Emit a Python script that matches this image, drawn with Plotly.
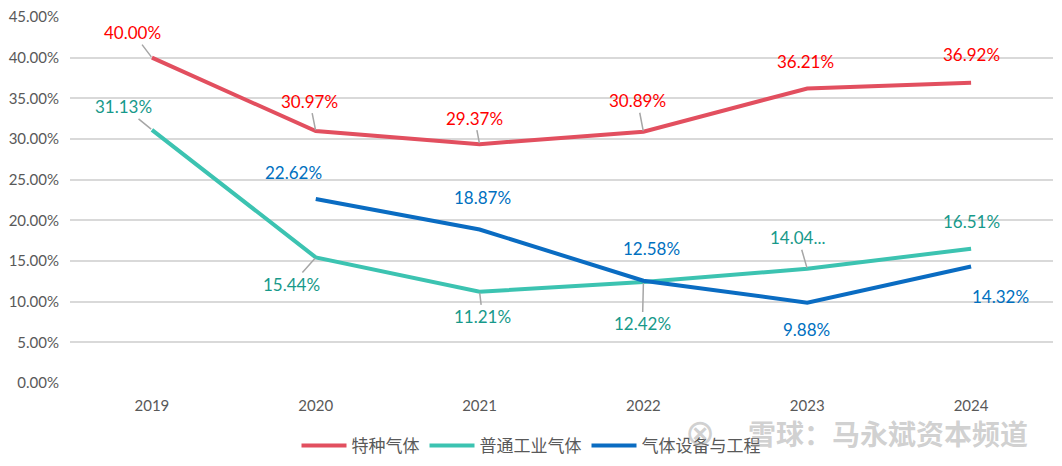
import plotly.graph_objects as go

# ----------------------------------------------------------------------
#  Data (percent)
years = ["2019", "2020", "2021", "2022", "2023", "2024"]
special_gas = [40.00, 30.97, 29.37, 30.89, 36.21, 36.92]
industrial_gas = [31.13, 15.44, 11.21, 12.42, 14.04, 16.51]
equipment = [None, 22.62, 18.87, 12.58, 9.88, 14.32]

series_names = ["特种气体", "普通工业气体", "气体设备与工程"]

# label text overrides (Excel truncated one label)
industrial_text = ["31.13%", "15.44%", "11.21%", "12.42%", "14.04...", "16.51%"]

# ----------------------------------------------------------------------
#  Styles
LINE_COLORS = ["#E24F5F", "#3CC3B1", "#0A6CC2"]
LABEL_COLORS = ["#FF0000", "#17998A", "#0070C0"]
LEADER = "#A6A6A6"
FONT = "Lato, 'Noto Sans CJK SC', sans-serif"
WM = "rgba(170,170,170,0.55)"

# label offsets (px, text centre relative to point) and whether a leader line shows
special_off = [(-19, -25, True), (-6, -30, True), (-5, -26, True), (-6, -31, True), (-2, -27, False), (0, -28, False)]
industrial_off = [(-28, -23, True), (-24, 27, True), (3, 25, True), (-1, 42, True), (-9, -31, True), (0, -27, False)]
equipment_off = [None, (-22, -27, False), (3, -32, False), (8, -32, False), (-1, 27, False), (29, 30, False)]

fig = go.Figure()
for name, vals, col in zip(series_names, [special_gas, industrial_gas, equipment], LINE_COLORS):
    fig.add_trace(go.Scatter(
        x=years, y=vals, name=name, mode="lines",
        line=dict(color=col, width=4),
        hoverinfo="skip",
    ))

annotations = []
def add_labels(vals, texts, offs, col):
    # category index used for x so the axis is not stretched
    for i, (v, t, o) in enumerate(zip(vals, texts, offs)):
        if v is None or o is None:
            continue
        ax, ay, lead = o
        annotations.append(dict(
            x=i, y=v, xref="x", yref="y", text=t,
            showarrow=True, ax=ax, ay=ay, arrowhead=0,
            arrowwidth=1.5, arrowcolor=LEADER if lead else "rgba(0,0,0,0)",
            standoff=1,
            font=dict(family=FONT, size=17, color=col),
        ))

add_labels(special_gas, [f"{v:.2f}%" for v in special_gas], special_off, LABEL_COLORS[0])
add_labels(industrial_gas, industrial_text, industrial_off, LABEL_COLORS[1])
add_labels(equipment, [None if v is None else f"{v:.2f}%" for v in equipment], equipment_off, LABEL_COLORS[2])

# watermark (logo + text)
annotations.append(dict(
    x=0.641, y=-0.134, xref="paper", yref="paper", xanchor="center", yanchor="middle",
    text="⊗", showarrow=False,
    font=dict(family="'DejaVu Sans'", size=36, color=WM),
))
annotations.append(dict(
    x=0.977, y=-0.136, xref="paper", yref="paper", xanchor="right", yanchor="middle",
    text="<b>雪球：马永斌资本频道</b>", showarrow=False,
    font=dict(family="'Noto Sans CJK SC'", size=28, color=WM),
))

# page body has an 8px margin, so the figure is sized to fit inside it
fig.update_layout(
    width=1046, height=450,
    plot_bgcolor="white", paper_bgcolor="white",
    margin=dict(l=62, r=1, t=9, b=75, autoexpand=False),
    font=dict(family=FONT, size=15, color="#595959"),
    xaxis=dict(
        type="category", range=[-0.5, len(years) - 0.5],
        showgrid=False, showline=False, zeroline=False, ticks="",
        ticklabelstandoff=12,
        tickfont=dict(size=15, color="#595959"),
    ),
    yaxis=dict(
        range=[0, 45.0001], tickmode="linear", tick0=0, dtick=5,
        tickformat=".2f", ticksuffix="%", ticklabeloverflow="allow",
        showgrid=True, gridcolor="#D9D9D9", gridwidth=1.5,
        zeroline=False, showline=False, ticks="",
        ticklabelstandoff=10,
        tickfont=dict(size=15, color="#595959"),
    ),
    legend=dict(
        orientation="h", xref="container", yref="container",
        x=0.5, xanchor="center", y=0.027, yanchor="middle",
        font=dict(size=17, color="#595959"), itemwidth=45,
    ),
    annotations=annotations,
    showlegend=True,
)

fig.write_html("out.html")
